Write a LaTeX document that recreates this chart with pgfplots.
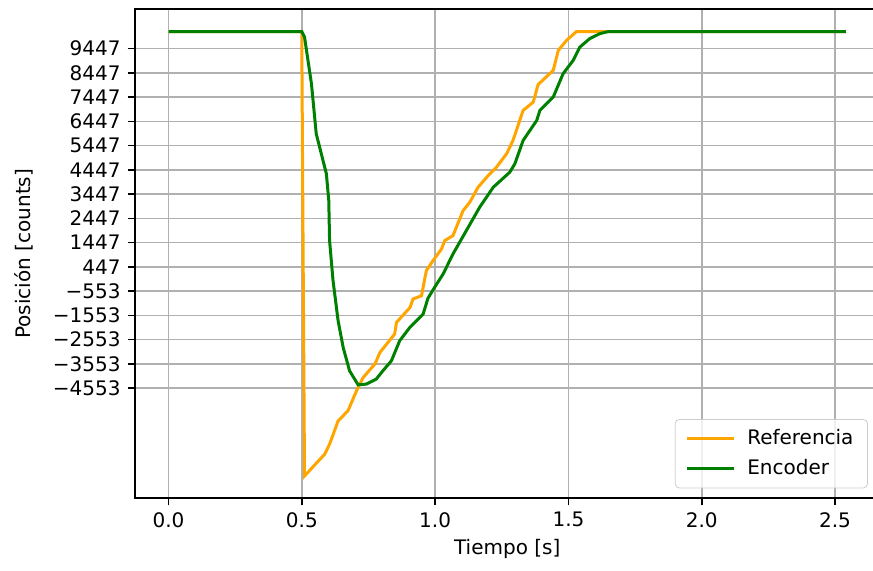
\documentclass[border=0pt]{standalone}
\usepackage{fontspec}
\setmainfont{DejaVu Sans}
\usepackage{pgfplots}
\pgfplotsset{compat=1.18}
\definecolor{mplorange}{HTML}{FFA500}
\definecolor{mplgreen}{HTML}{008000}
\definecolor{mplgrid}{HTML}{B0B0B0}
\begin{document}
\begin{tikzpicture}
\useasboundingbox (0,0) rectangle (436.5pt,285.5pt);
\begin{axis}[
  at={(67.35pt,36.35pt)}, anchor=south west,
  width=372.55pt, height=244.5pt, scale only axis,
  xmin=-0.127, xmax=2.668, ymin=-9100, ymax=11070,
  xtick={0,0.5,1,1.5,2,2.5},
  xticklabels={0.0,0.5,1.0,1.5,2.0,2.5},
  ytick={-4553,-3553,-2553,-1553,-553,447,1447,2447,3447,4447,5447,6447,7447,8447,9447},
  yticklabels={−4553,−3553,−2553,−1553,−553,447,1447,2447,3447,4447,5447,6447,7447,8447,9447},
  tick align=outside, major tick length=3.5pt, tick pos=left,
  grid=major, grid style={mplgrid, line width=0.8pt},
  axis line style={line width=0.8pt},
  every tick/.style={black, line width=0.8pt},
  /pgf/number format/assume math mode=true,
  ticklabel style={font=\fontsize{10}{12}\selectfont},
  xlabel={Tiempo [s]}, ylabel={Posición [counts]},
  every axis x label/.style={at={(rel axis cs:0.5,0)}, yshift=-25.35pt, anchor=center, font=\fontsize{10}{12}\selectfont},
  every axis y label/.style={at={(rel axis cs:0,0.5)}, xshift=-55.35pt, anchor=center, rotate=90, font=\fontsize{10}{12}\selectfont},
  legend style={at={(0.984,0.0204)}, anchor=south east, draw=black!20, rounded corners=2pt,
    fill=white, fill opacity=0.8, text opacity=1, font=\fontsize{10}{12}\selectfont,
    inner xsep=5pt, inner ysep=3pt, row sep=2pt, column sep=4pt},
  legend cell align=left,
  legend image code/.code={\draw[#1,line width=1.5pt] (0pt,0pt) -- (23.5pt,0pt);},
]
\addplot[mplorange, line width=1.5pt] coordinates {
(0,10150) (0.4996,10150) (0.51,-8180) (0.5856,-7282) (0.604,-6868) (0.636,-5906)
(0.673,-5493) (0.705,-4667) (0.73,-4118) (0.774,-3564) (0.793,-3085) (0.848,-2325)
(0.855,-1846) (0.906,-1226) (0.917,-880) (0.949,-743) (0.961,-50) (0.967,289)
(0.992,702) (1.024,1186) (1.036,1529) (1.067,1735) (1.105,2768) (1.13,3111)
(1.161,3730) (1.199,4214) (1.23,4557) (1.268,5110) (1.292,5659) (1.33,6898)
(1.368,7241) (1.386,7961) (1.443,8551) (1.462,9377) (1.493,9790) (1.53,10150)
(2.541,10150)
};
\addlegendentry{Referencia}
\addplot[mplgreen, line width=1.5pt] coordinates {
(0,10150) (0.4996,10150) (0.51,9926) (0.536,8001) (0.554,5936) (0.592,4284)
(0.601,3181) (0.604,1529) (0.617,-124) (0.636,-1776) (0.655,-2878) (0.679,-3841)
(0.711,-4419) (0.742,-4390) (0.779,-4184) (0.804,-3841) (0.836,-3428) (0.867,-2601)
(0.905,-2052) (0.955,-1499) (0.973,-850) (0.998,-400) (1.03,153) (1.067,979)
(1.117,1942) (1.167,2905) (1.218,3730) (1.28,4350) (1.299,4697) (1.33,5659)
(1.381,6485) (1.393,6898) (1.443,7448) (1.48,8414) (1.518,8964) (1.543,9513)
(1.58,9860) (1.618,10066) (1.649,10150) (2.541,10150)
};
\addlegendentry{Encoder}
\end{axis}
\end{tikzpicture}
\end{document}
